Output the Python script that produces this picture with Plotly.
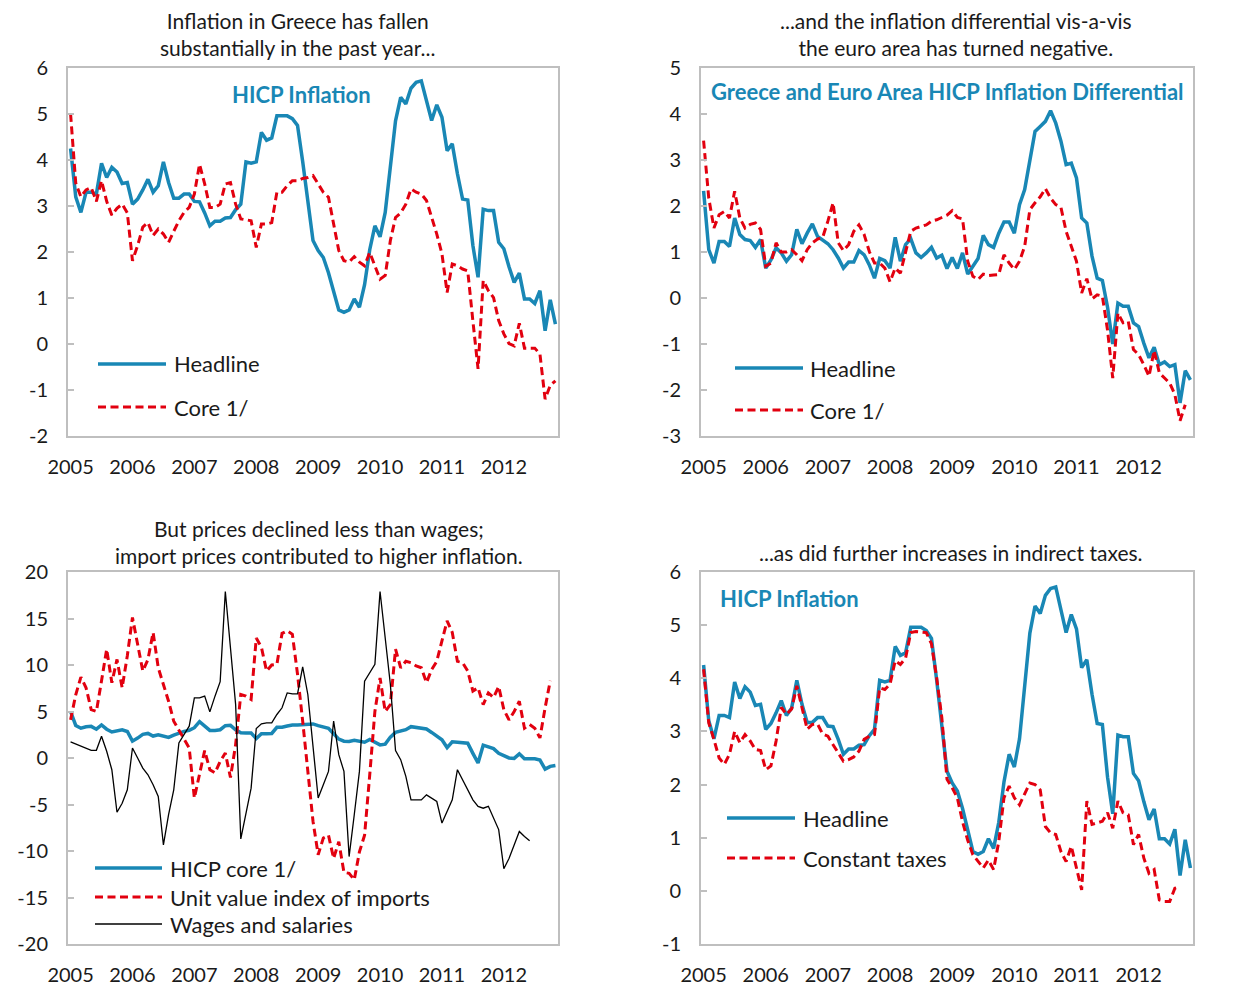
import plotly.graph_objects as go

W, H = 1243, 986

# monthly observations, Jan 2005 onwards (index 0 = Jan 2005)
years = ['2005', '2006', '2007', '2008', '2009', '2010', '2011', '2012']
year_pos = [0, 12, 24, 36, 48, 60, 72, 84]
half_year_ticks = [5.5 + 6 * k for k in range(15)]

# HICP headline inflation, y/y percent
headline = [
    4.25, 3.2, 2.86, 3.3, 3.3, 3.26, 3.93, 3.62, 3.84, 3.74, 3.49, 3.51,
    3.04, 3.15, 3.35, 3.58, 3.3, 3.44, 3.96, 3.51, 3.17, 3.17, 3.26, 3.26,
    3.1, 3.09, 2.85, 2.57, 2.67, 2.67, 2.74, 2.75, 2.92, 3.04, 3.96, 3.93,
    3.96, 4.6, 4.43, 4.48, 4.96, 4.96, 4.96, 4.9, 4.75, 3.97, 3.04, 2.25,
    2.03, 1.88, 1.55, 1.15, 0.74, 0.69, 0.74, 0.98, 0.8, 1.29, 2.05, 2.57,
    2.33, 2.86, 3.91, 4.85, 5.36, 5.22, 5.56, 5.69, 5.72, 5.29, 4.86, 5.2,
    4.93, 4.2, 4.35, 3.7, 3.15, 3.13, 2.14, 1.45, 2.93, 2.9, 2.9, 2.21,
    2.07, 1.68, 1.34, 1.54, 0.98, 0.98, 0.88, 1.16, 0.29, 0.96, 0.43,
]

# HICP core inflation
core = [
    5.0, 3.5, 3.2, 3.35, 3.4, 3.1, 3.55, 3.1, 2.8, 2.95, 3.04, 2.85,
    1.81, 2.14, 2.54, 2.64, 2.36, 2.5, 2.39, 2.21, 2.45, 2.68, 2.86, 2.97,
    3.26, 3.91, 3.48, 2.97, 2.97, 3.04, 3.48, 3.51, 3.04, 2.72, 2.7, 2.68,
    2.1, 2.61, 2.61, 2.64, 3.3, 3.3, 3.44, 3.55, 3.55, 3.6, 3.62, 3.66,
    3.48, 3.3, 3.19, 2.61, 2.03, 1.81, 1.78, 1.9, 1.78, 1.7, 1.99, 1.7,
    1.41, 1.49, 2.25, 2.75, 2.85, 3.04, 3.37, 3.3, 3.26, 3.12, 2.75, 2.39,
    1.96, 1.12, 1.74, 1.7, 1.63, 1.59, 0.5, -0.54, 1.38, 1.16, 1.01, 0.51,
    0.22, 0.01, -0.04, 0.45, -0.09, -0.09, -0.09, -0.22, -1.2, -0.9, -0.8,
]

# Greece minus euro area
diff_headline = [
    2.33, 1.05, 0.76, 1.23, 1.23, 1.12, 1.74, 1.38, 1.27, 1.25, 1.1, 1.27,
    0.65, 0.83, 1.09, 0.98, 0.8, 0.94, 1.49, 1.18, 1.41, 1.61, 1.34, 1.27,
    1.18, 1.05, 0.87, 0.65, 0.78, 0.78, 1.03, 0.94, 0.72, 0.43, 0.86, 0.81,
    0.65, 1.32, 0.8, 1.16, 1.29, 0.98, 0.88, 0.98, 1.1, 0.87, 0.93, 0.64,
    0.88, 0.64, 0.98, 0.52, 0.69, 0.86, 1.36, 1.16, 1.1, 1.41, 1.65, 1.65,
    1.41, 2.03, 2.36, 2.97, 3.62, 3.73, 3.84, 4.07, 3.8, 3.41, 2.9, 2.93,
    2.61, 1.74, 1.63, 0.91, 0.43, 0.38, -0.2, -1.0, -0.11, -0.18, -0.18, -0.54,
    -0.62, -0.98, -1.3, -1.07, -1.45, -1.39, -1.49, -1.45, -2.28, -1.58, -1.78,
]

diff_core = [
    3.42, 2.17, 1.52, 1.81, 1.88, 1.74, 2.32, 1.74, 1.52, 1.6, 1.63, 1.49,
    0.69, 0.76, 1.2, 1.0, 1.0, 1.05, 0.94, 0.81, 1.05, 1.2, 1.28, 1.32,
    1.67, 2.07, 1.2, 1.03, 1.16, 1.45, 1.59, 1.38, 1.01, 0.76, 0.76, 0.65,
    0.35, 0.65, 0.54, 1.01, 1.45, 1.52, 1.55, 1.59, 1.67, 1.7, 1.75, 1.8,
    1.9, 1.75, 1.72, 0.8, 0.47, 0.4, 0.52, 0.49, 0.5, 0.51, 0.94, 0.76,
    0.62, 0.8, 1.12, 1.92, 2.07, 2.2, 2.38, 2.17, 2.03, 1.97, 1.45, 1.12,
    0.8, 0.11, 0.42, -0.02, 0.07, 0.04, -0.7, -1.74, -0.33, -0.54, -0.51, -1.12,
    -1.23, -1.45, -1.7, -1.14, -1.63, -1.74, -1.85, -2.1, -2.67, -2.32,
]

# unit value index of imports
import_prices = [
    4.1, 6.8, 8.7, 7.55, 5.2, 5.0, 8.3, 11.7, 8.1, 10.6, 7.55, 11.0,
    15.1, 12.05, 9.35, 10.6, 13.5, 9.7, 7.9, 6.1, 3.96, 3.0, 2.0, 1.08,
    -4.3, -1.8, 0.8, -1.26, -1.6, -0.36, 0.54, -2.1, 1.44, 6.83, 6.65, 6.3,
    12.9, 11.9, 9.35, 10.0, 10.07, 13.4, 13.67, 13.3, 9.0, 3.96, -1.08, -6.8,
    -10.4, -8.6, -8.3, -10.8, -9.0, -12.3, -12.4, -13.1, -10.1, -8.3, -1.8, 5.0,
    8.6, 5.0, 5.75, 11.7, 9.7, 10.4, 10.25, 9.9, 9.7, 8.1, 9.5, 10.4,
    12.6, 14.75, 13.5, 10.4, 10.25, 9.35, 7.2, 7.55, 5.75, 7.0, 6.5, 7.7,
    5.2, 4.1, 5.0, 6.1, 3.2, 3.6, 3.2, 2.16, 5.4, 8.3,
]

# wages and salaries
wages = [
    1.73, 1.5, 1.26, 1.05, 0.83, 0.83, 2.34, 0.72, -1.26, -5.83, -4.86, -3.42,
    1.08, 0.0, -1.08, -1.8, -2.88, -4.14, -9.35, -6.1, -3.42, 1.62, 2.5, 3.42,
    6.47, 6.47, 6.65, 4.96, 6.65, 8.2, 17.9, 12.0, 5.75, -8.7, -5.9, -3.24,
    3.17, 3.67, 3.78, 3.78, 4.68, 5.4, 7.0, 6.9, 6.9, 9.8, 6.83, 1.0,
    -4.3, -2.88, -1.44, 3.96, 0.36, -1.44, -10.6, -6.1, -1.44, 8.27, 9.17, 10.07,
    17.9, 12.6, 7.9, 0.8, -0.18, -1.98, -4.5, -4.5, -4.5, -3.96, -4.3, -4.68,
    -7.0, -5.75, -4.5, -1.26, -2.34, -3.42, -4.5, -5.2, -5.4, -5.2, -6.5, -7.7,
    -11.9, -10.8, -9.35, -7.9, -8.45, -8.9,
]

# HICP at constant taxes
constant_taxes = [
    4.17, 3.16, 2.85, 2.5, 2.38, 2.57, 3.0, 2.79, 2.94, 2.82, 2.66, 2.64,
    2.28, 2.35, 2.82, 3.45, 3.32, 3.42, 3.86, 3.45, 3.04, 3.13, 3.14, 2.95,
    2.91, 2.75, 2.6, 2.44, 2.47, 2.52, 2.63, 2.85, 2.91, 2.94, 3.82, 3.79,
    3.89, 4.33, 4.26, 4.38, 4.86, 4.88, 4.87, 4.86, 4.65, 4.01, 3.26, 2.1,
    1.94, 1.75, 1.3, 0.95, 0.68, 0.55, 0.43, 0.58, 0.4, 0.93, 1.75, 1.97,
    1.75, 1.62, 1.81, 2.03, 2.0, 1.9, 1.21, 1.09, 1.06, 0.74, 0.55, 0.84,
    0.43, 0.02, 1.69, 1.25, 1.28, 1.31, 1.47, 1.18, 1.69, 1.47, 1.43, 0.87,
    1.06, 0.62, 0.33, 0.4, -0.17, -0.2, -0.2, 0.05, 0.08,
]

BLUE = '#1987b5'
RED = '#e2000f'
BLACK = '#000000'
BOX = '#bfbfbf'
ZERO = '#9a9a9a'
FONT = 'Lato, Calibri, sans-serif'
TEXT = '#1a1a1a'
RED_DASH = '8px,4.5px'


def fx(p):
    return p / W


def fy(p):
    return 1 - p / H


def ax(n):
    return '' if n == 1 else str(n)


def ticks_for(lo, hi, step):
    # plain hyphen for negatives, like the original
    vals = list(range(lo, hi + 1, step))
    return vals, [str(v) for v in vals]


# plot box in pixels, left/right axis ranges
panels = [
    dict(x=(68, 558), y=(68, 436), left=(-2, 6), right=(-1, 6), dtick=1, zero_w=1.5),
    dict(x=(701, 1193), y=(68, 436), left=(-3, 5), right=(-3, 5), dtick=1, zero_w=1.5),
    dict(x=(68, 558), y=(572, 944), left=(-20, 20), right=(-20, 20), dtick=5, zero_w=2.5),
    dict(x=(701, 1193), y=(572, 944), left=(-1, 6), right=(-1, 6), dtick=1, zero_w=1.5),
]

series = [
    [('Headline', headline, BLUE, 'solid', 3.5), ('Core 1/', core, RED, RED_DASH, 3)],
    [('Headline', diff_headline, BLUE, 'solid', 3.5), ('Core 1/', diff_core, RED, RED_DASH, 3)],
    [('HICP core 1/', core, BLUE, 'solid', 3.5),
     ('Unit value index of imports', import_prices, RED, RED_DASH, 3),
     ('Wages and salaries', wages, BLACK, 'solid', 1.3)],
    [('Headline', headline, BLUE, 'solid', 3.5), ('Constant taxes', constant_taxes, RED, RED_DASH, 3)],
]

fig = go.Figure()
layout = dict(
    width=W, height=H,
    margin=dict(l=0, r=0, t=0, b=0),
    paper_bgcolor='white', plot_bgcolor='white',
    showlegend=False,
    font=dict(family=FONT, size=20, color=TEXT),
)

for i, p in enumerate(panels):
    xm, xz, yl, yr = 4 * i + 1, 4 * i + 2, 4 * i + 1, 4 * i + 2
    dom_x = [fx(p['x'][0]), fx(p['x'][1])]
    dom_y = [fy(p['y'][1]), fy(p['y'][0])]
    lo, hi = p['left']
    zero_pos = dom_y[0] + (0 - lo) / (hi - lo) * (dom_y[1] - dom_y[0])
    lvals, ltext = ticks_for(p['left'][0], p['left'][1], p['dtick'])
    rvals, rtext = ticks_for(p['right'][0], p['right'][1], p['dtick'])

    layout['xaxis' + ax(xm)] = dict(
        domain=dom_x, range=[-0.5, 94.5], anchor='y' + ax(yl), automargin=False,
        showline=True, mirror=True, linecolor=BOX, linewidth=2,
        ticks='', tickvals=year_pos, ticktext=years,
        showgrid=False, zeroline=False, ticklabelstandoff=12,
    )
    # zero line with half-year tick marks
    layout['xaxis' + ax(xz)] = dict(
        domain=dom_x, range=[-0.5, 94.5], overlaying='x' + ax(xm),
        anchor='free', position=zero_pos, automargin=False,
        showline=True, linecolor=ZERO, linewidth=p['zero_w'],
        ticks='inside', tickvals=half_year_ticks, ticklen=7, tickwidth=2, tickcolor=BOX,
        showticklabels=False, showgrid=False, zeroline=False,
    )
    layout['yaxis' + ax(yl)] = dict(
        domain=dom_y, range=list(p['left']), anchor='x' + ax(xm), automargin=False,
        tickvals=lvals, ticktext=ltext,
        showline=True, mirror=True, linecolor=BOX, linewidth=2,
        ticks='inside', ticklen=6, tickwidth=2, tickcolor=BOX,
        showgrid=False, zeroline=False, ticklabelstandoff=14,
    )
    layout['yaxis' + ax(yr)] = dict(
        domain=dom_y, range=list(p['right']), anchor='x' + ax(xm), automargin=False,
        tickvals=rvals, ticktext=rtext,
        overlaying='y' + ax(yl), side='right',
        ticks='inside', ticklen=6, tickwidth=2, tickcolor=BOX,
        showline=False, showgrid=False, zeroline=False, ticklabelstandoff=16,
    )

    for name, vals, color, dash, width in series[i]:
        fig.add_trace(go.Scatter(
            x=list(range(len(vals))), y=vals, name=name, mode='lines',
            line=dict(color=color, dash=dash, width=width),
            xaxis='x' + ax(xm), yaxis='y' + ax(yl),
        ))

fig.update_layout(**layout)

# panel titles
titles = [
    ('Inflation in Greece has fallen<br>substantially in the past year...', 297, 34),
    ('...and the inflation differential vis-a-vis<br>the euro area has turned negative.', 956, 34),
    ('But prices declined less than wages;<br>import prices contributed to higher inflation.', 319, 542),
    ('...as did further increases in indirect taxes.', 951, 552),
]
for text, x, y in titles:
    fig.add_annotation(text=text, x=fx(x), y=fy(y), xref='paper', yref='paper',
                       xanchor='center', yanchor='middle', showarrow=False,
                       font=dict(size=21, color=TEXT))

# blue headers inside the boxes
headers = [
    ('HICP Inflation', 301, 94, 'center'),
    ('Greece and Euro Area HICP Inflation Differential', 947, 91, 'center'),
    ('HICP Inflation', 718, 598, 'left'),
]
for text, x, y, anchor in headers:
    fig.add_annotation(text='<b>' + text + '</b>', x=fx(x), y=fy(y), xref='paper', yref='paper',
                       xanchor=anchor, yanchor='middle', showarrow=False,
                       font=dict(size=22, color=BLUE))

# legends: sample line start/end and text start in pixels, row heights
legends = [
    (98, 166, 172, [364, 407]),
    (735, 803, 808, [368, 410]),
    (95, 162, 168, [868, 897, 924]),
    (727, 795, 801, [818, 858]),
]
for i, (l0, l1, tx, rows) in enumerate(legends):
    for (name, vals, color, dash, width), y in zip(series[i], rows):
        fig.add_shape(type='line', xref='paper', yref='paper',
                      x0=fx(l0), x1=fx(l1), y0=fy(y), y1=fy(y),
                      line=dict(color=color, dash=dash, width=width))
        fig.add_annotation(text=name, x=fx(tx), y=fy(y), xref='paper', yref='paper',
                           xanchor='left', yanchor='middle', showarrow=False,
                           font=dict(size=22, color=TEXT))

# the page's default body margin would push the figure 8px off the corner
fig.write_html('out.html', config={'displayModeBar': False},
               post_script="document.body.style.margin = '0px';")
